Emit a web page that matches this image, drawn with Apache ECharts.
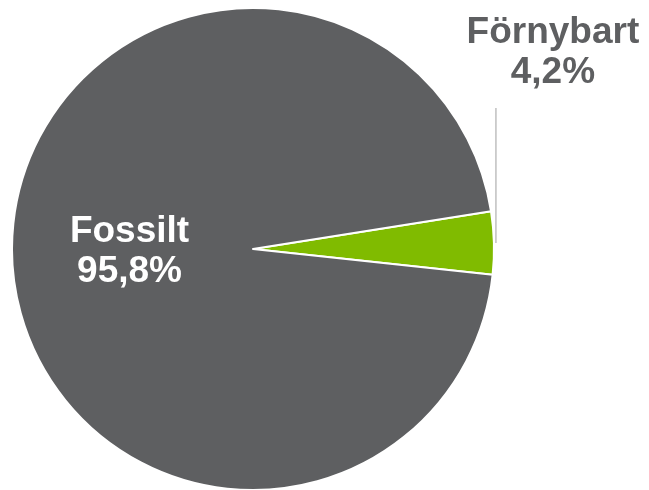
<!DOCTYPE html>
<html><head><meta charset="utf-8">
<script src="https://cdn.jsdelivr.net/npm/echarts@6/dist/echarts.min.js"></script>
<style>html,body{margin:0;padding:0;background:#fff}#c{width:649px;height:490px}</style>
</head><body><div id="c"></div>
<script>
const categories = ['Förnybart', 'Fossilt'];
const values = [4.2, 95.8];
const colors = ['#80bb00', '#5e5f61'];

const chart = echarts.init(document.getElementById('c'), null, {renderer: 'canvas'});
const fmt = p => p.name + '\n' + p.value.toFixed(1).replace('.', ',') + '%';
chart.setOption({
  animation: false,
  series: [{
    type: 'pie',
    center: [253, 249],
    radius: 241,
    startAngle: 9,
    clockwise: true,
    avoidLabelOverlap: false,
    itemStyle: {borderColor: '#fff', borderWidth: 2},
    label: {fontFamily: 'Liberation Sans, Arial, sans-serif', fontWeight: 'bold', fontSize: 37, lineHeight: 40, formatter: fmt},
    labelLayout: function (p) {
      if (p.dataIndex !== 0) return {};
      const pts = p.labelLinePoints;
      const x0 = pts ? pts[0][0] : p.rect.x + p.rect.width;
      const y0 = pts ? pts[0][1] : p.rect.y + p.rect.height / 2;
      return {
        x: x0 + 59, y: 53, align: 'center', verticalAlign: 'middle',
        labelLinePoints: [[x0 + 2, y0], [x0 + 2, 108], [x0 + 2, 108]]
      };
    },
    data: categories.map((c, i) => ({
      name: c, value: values[i],
      itemStyle: {color: colors[i]},
      label: i === 0
        ? {position: 'outside', color: '#5e5f61'}
        : {position: 'inside', color: '#ffffff'},
      labelLine: i === 0
        ? {show: true, length: 10, length2: 10, lineStyle: {color: '#bfbfbf', width: 1.5}}
        : {show: false}
    }))
  }]
});
</script></body></html>
